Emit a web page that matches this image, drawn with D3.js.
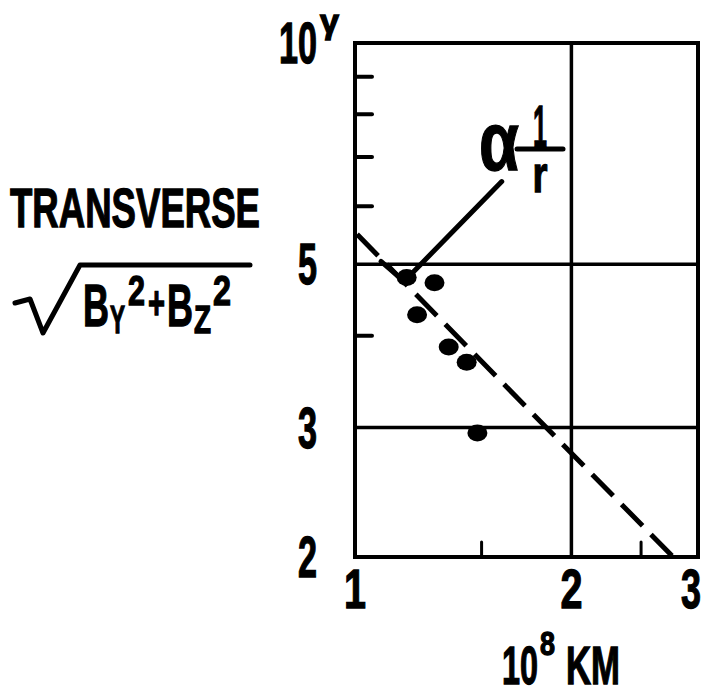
<!DOCTYPE html>
<html>
  <head>
    <meta charset="utf-8" />
    <style>
      body { margin: 0; background: #fff; }
      text { font-family: "Liberation Sans Narrow", "Liberation Sans", Arial, sans-serif; font-weight: bold; fill: #000; stroke: #000; stroke-width: 1.3; }
    </style>
  </head>
  <body>
    <script src="https://d3js.org/d3.v7.min.js"></script>
    <div id="main"></div>
    <script>
      // Data (distance in 10^8 km, field in gamma)
      const distance = [1.18, 1.29, 1.22, 1.35, 1.43, 1.48];
      const transverse = [4.8, 4.72, 4.27, 3.86, 3.68, 2.95];

      // dashed "proportional to 1/r" line, end points
      const fitR = [1, 2.77];
      const fitB = [5.53, 2.0];

      const xTicks = [1, 2, 3];
      const xMinor = [1.5, 2.5];
      const yTicks = [2, 3, 5, 10];
      const yMinor = [4, 6, 7, 8, 9];
      const xGrid = [2];
      const yGrid = [3, 5];

      // annotation leader line (data units)
      const leaderFrom = [1.6, 6.48];
      const leaderTo = [1.17, 4.74];

      const W = 711, H = 696;
      const svg = d3.select("#main").append("svg")
        .attr("width", W).attr("height", H);

      const x = d3.scaleLog().domain([1, 3]).range([355, 698]);
      const y = d3.scaleLog().domain([2, 10]).range([557, 43]);

      function label(str, px, py, size, len, anchor) {
        const t = svg.append("text")
          .attr("x", px).attr("y", py)
          .attr("font-size", size)
          .attr("text-anchor", anchor || "start")
          .text(str);
        if (len) t.attr("textLength", len).attr("lengthAdjust", "spacingAndGlyphs");
        return t;
      }

      // grid
      svg.selectAll(".gx").data(xGrid).join("line")
        .attr("x1", d => x(d)).attr("x2", d => x(d))
        .attr("y1", y(10)).attr("y2", y(2))
        .attr("stroke", "#000").attr("stroke-width", 3.5);
      svg.selectAll(".gy").data(yGrid).join("line")
        .attr("class", "gy")
        .attr("x1", x(1)).attr("x2", x(3))
        .attr("y1", d => y(d)).attr("y2", d => y(d))
        .attr("stroke", "#000").attr("stroke-width", 3.5);

      // frame
      svg.append("rect")
        .attr("x", x(1)).attr("y", y(10))
        .attr("width", x(3) - x(1)).attr("height", y(2) - y(10))
        .attr("fill", "none").attr("stroke", "#000").attr("stroke-width", 4);

      // inner ticks
      svg.selectAll(".ym").data(yMinor).join("line")
        .attr("class", "ym")
        .attr("x1", x(1)).attr("x2", x(1) + 17)
        .attr("y1", d => y(d)).attr("y2", d => y(d))
        .attr("stroke", "#000").attr("stroke-width", 4)
        .attr("stroke-linecap", "round");
      svg.selectAll(".xm").data(xMinor).join("line")
        .attr("class", "xm")
        .attr("x1", d => x(d)).attr("x2", d => x(d))
        .attr("y1", y(2)).attr("y2", y(2) - 15)
        .attr("stroke", "#000").attr("stroke-width", 3)
        .attr("stroke-linecap", "round");

      // tick labels
      yTicks.forEach(v => {
        const s = String(v);
        label(s, 317, y(v) + 20, 57, s.length * 19, "end");
      });
      label("γ", 320, 33, 33, 19);
      xTicks.forEach(v => {
        const t = label(String(v), x(v), 608, 56, 22, "middle");
        if (v === 3) t.attr("x", x(v) - 7).attr("textLength", 20);
      });

      // fitted 1/r line
      const line = d3.line().x(d => x(d[0])).y(d => y(d[1]));
      svg.append("path")
        .attr("d", line(d3.zip(fitR, fitB)))
        .attr("fill", "none").attr("stroke", "#000").attr("stroke-width", 5)
        .attr("stroke-dasharray", "30,12").attr("stroke-dashoffset", -3);

      // data points
      svg.selectAll(".pt").data(d3.zip(distance, transverse)).join("ellipse")
        .attr("class", "pt")
        .attr("cx", d => x(d[0])).attr("cy", d => y(d[1]))
        .attr("rx", 10).attr("ry", 8.5)
        .attr("fill", "#000");

      // annotation
      const tip = [x(leaderTo[0]), y(leaderTo[1])];
      svg.append("line")
        .attr("x1", x(leaderFrom[0])).attr("y1", y(leaderFrom[1]))
        .attr("x2", tip[0]).attr("y2", tip[1])
        .attr("stroke", "#000").attr("stroke-width", 5).attr("stroke-linecap", "round");
      svg.append("line")
        .attr("x1", tip[0]).attr("y1", tip[1])
        .attr("x2", tip[0] - 23).attr("y2", tip[1] - 20)
        .attr("stroke", "#000").attr("stroke-width", 5).attr("stroke-linecap", "round");
      label("α", 479, 170, 84, 40);
      label("1", 540, 147, 60, 14, "middle");
      svg.append("line")
        .attr("x1", 517).attr("x2", 563).attr("y1", 149).attr("y2", 149)
        .attr("stroke", "#000").attr("stroke-width", 5).attr("stroke-linecap", "round");
      label("r", 540, 192, 52, 15, "middle");

      // y-axis title
      label("TRANSVERSE", 10, 227, 55, 250);
      svg.append("path")
        .attr("d", "M15,303 L30,299 L43,333 L80,265 L250,265")
        .attr("fill", "none").attr("stroke", "#000").attr("stroke-width", 5)
        .attr("stroke-linejoin", "round").attr("stroke-linecap", "round");
      label("B", 83, 326, 60, 26);
      label("Y", 110, 333, 38, 15);
      label("2", 128, 305, 42, 17);
      label("+", 148, 319, 46, 17);
      label("B", 167, 326, 60, 26);
      label("Z", 194, 333, 38, 17);
      label("2", 213, 305, 42, 18);

      // x-axis title
      label("10", 502, 684, 54, 36);
      label("8", 540, 655, 34, 15);
      label("KM", 566, 684, 54, 54);
    </script>
  </body>
</html>
